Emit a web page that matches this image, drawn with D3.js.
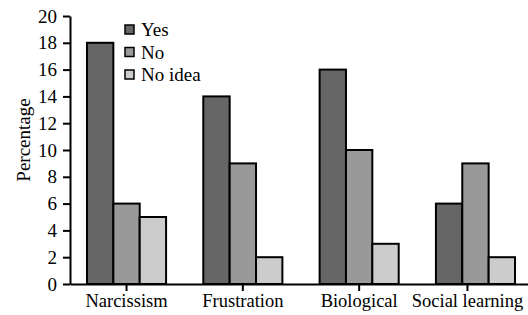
<!DOCTYPE html>
<html>
<head>
    <script src="https://d3js.org/d3.v7.min.js"></script>
    <style>
        body { margin: 0; background: #fff; }
        text { font-family: "Liberation Serif", "Times New Roman", serif; fill: #000; }
        .axis path, .axis line { stroke: #000; stroke-width: 2px; }
        .axis text { font-size: 19px; }
        .x-axis text { font-size: 18.5px; }
        .legend text { font-size: 19px; }
    </style>
</head>
<body>
    <svg width="528" height="315"></svg>
    <script>
        var categories = ["Narcissism", "Frustration", "Biological", "Social learning"];
        var seriesNames = ["Yes", "No", "No idea"];
        var yesValues = [18, 14, 16, 6];
        var noValues = [6, 9, 10, 9];
        var noIdeaValues = [5, 2, 3, 2];
        var yTicks = [0, 2, 4, 6, 8, 10, 12, 14, 16, 18, 20];
        var colors = ["#666666", "#999999", "#cccccc"];

        var seriesValues = [yesValues, noValues, noIdeaValues];

        var svg = d3.select("svg");
        var plotLeft = 70, plotRight = 532, plotTop = 16, plotBottom = 284;

        var x0 = d3.scaleBand().domain(categories).range([plotLeft, plotRight])
            .paddingInner(0.32).paddingOuter(0.146);
        var x1 = d3.scaleBand().domain(seriesNames).range([0, x0.bandwidth()]);
        var y = d3.scaleLinear().domain([0, 20]).range([plotBottom, plotTop]);
        var color = d3.scaleOrdinal().domain(seriesNames).range(colors);

        // bars
        categories.forEach(function(cat, i) {
            seriesNames.forEach(function(s, j) {
                var v = seriesValues[j][i];
                svg.append("rect")
                   .attr("x", x0(cat) + x1(s))
                   .attr("y", y(v))
                   .attr("width", x1.bandwidth())
                   .attr("height", y(0) - y(v))
                   .attr("fill", color(s))
                   .attr("stroke", "#000")
                   .attr("stroke-width", 2);
            });
        });

        // axes
        var xAxis = svg.append("g")
           .attr("class", "axis x-axis")
           .attr("transform", "translate(0," + plotBottom + ")")
           .call(d3.axisBottom(x0).tickSize(7).tickSizeOuter(0).tickPadding(3));

        // last label sits a little left of its group, as in the original
        xAxis.selectAll(".tick")
             .filter(d => d === "Social learning")
             .attr("transform", d => "translate(" + (x0(d) + x0.bandwidth() / 2 - 8) + ",0)");

        svg.append("g")
           .attr("class", "axis")
           .attr("transform", "translate(" + plotLeft + ",0)")
           .call(d3.axisLeft(y).tickValues(yTicks).tickSize(7).tickSizeOuter(0).tickPadding(6));

        svg.append("text")
           .attr("transform", "translate(30,140) rotate(-90)")
           .attr("text-anchor", "middle")
           .style("font-size", "19px")
           .text("Percentage");

        // legend
        var legend = svg.append("g").attr("class", "legend");
        seriesNames.forEach(function(s, i) {
            legend.append("rect")
                  .attr("x", 125)
                  .attr("y", 25 + i * 22.5)
                  .attr("width", 9)
                  .attr("height", 9)
                  .attr("fill", color(s))
                  .attr("stroke", "#000")
                  .attr("stroke-width", 1.5);
            legend.append("text")
                  .attr("x", 141)
                  .attr("y", 29.5 + i * 22.5)
                  .attr("dy", "0.35em")
                  .text(s);
        });
    </script>
</body>
</html>
